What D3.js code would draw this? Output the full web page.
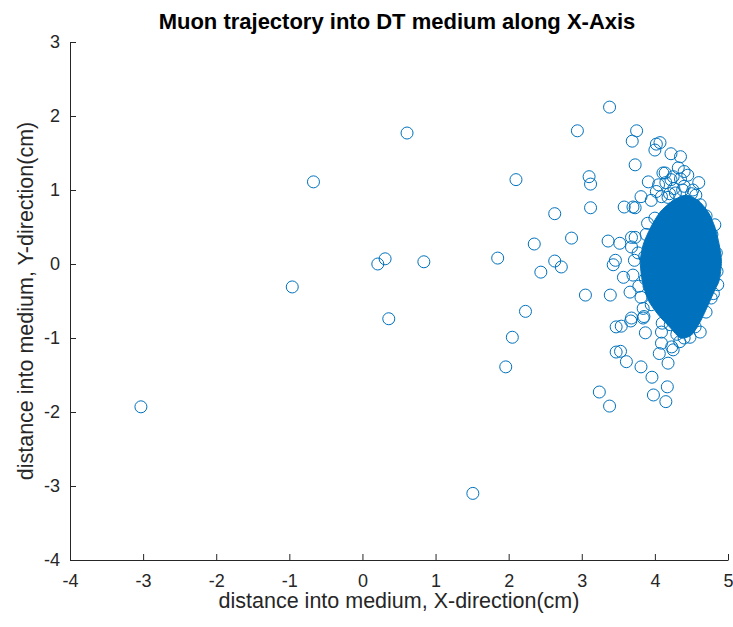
<!DOCTYPE html>
<html>
<head>
<meta charset="utf-8">
<script src="https://cdn.jsdelivr.net/npm/d3@7"></script>
<style>
  body { margin: 0; background: #fff; }
  svg { font-family: "Liberation Sans", Arial, Helvetica, sans-serif; }
  .axis path, .axis line { stroke: #262626; }
  .axis text { fill: #262626; font-size: 18px; }
</style>
</head>
<body>
<div id="chart"></div>
<script>
// scattered hits (x, y in cm)
const xs = [-3.03, -0.96, -0.67, 0.61, 0.21, 0.31, 0.84, 0.36, 1.51,
    3.38, 2.94, 2.10, 3.10, 3.12, 3.12, 2.63, 2.86, 2.35, 1.85, 2.63, 2.72, 2.44,
    3.36, 3.43, 3.46, 3.05, 3.39, 2.23, 2.05, 1.96, 3.24, 3.38, 3.47, 3.47,
    3.75, 3.69, 4.02, 4.00, 4.07, 4.22, 3.73, 3.58, 3.73, 3.52, 3.68,
    4.32, 4.45, 3.91, 4.11, 4.22, 4.05, 4.14, 4.56, 4.82, 4.28, 4.09, 3.95, 3.81, 3.70,
    3.73, 3.68, 3.77, 3.72, 3.70, 3.78, 3.57, 3.66, 3.81, 3.84, 3.85, 3.54, 3.67,
    3.87, 4.09, 4.62, 4.48, 4.21, 4.23, 4.09, 3.53, 3.61, 4.06, 4.18, 4.25, 3.81,
    3.96, 4.17, 3.98, 4.15, 3.68, 3.84, 4.86, 4.77, 4.35, 4.60, 4.40,
    // fringe of the dense core
    4.50, 4.38, 4.62, 4.70, 4.78, 4.84, 4.85, 4.80, 4.70, 4.55, 4.30, 4.40,
    3.88, 3.86, 3.87, 3.95, 4.10, 4.00, 3.90, 4.18, 4.26, 4.52, 4.34, 3.92,
    4.15, 4.25, 4.35, 4.02, 4.20, 4.40];
const ys = [-1.93, -0.31, 1.11, 1.77, 0.00, 0.07, 0.03, -0.74, -3.10,
    2.12, 1.80, 1.14, 1.18, 1.08, 0.76, 0.68, 0.35, 0.27, 0.08, 0.04, -0.04, -0.11,
    0.31, -0.01, 0.05, -0.42, -0.42, -0.64, -0.99, -1.39, -1.73, -1.92, -0.85, -1.19,
    1.80, 1.66, 1.62, 1.54, 1.64, 1.49, 1.34, 0.77, 0.76, 0.28, 0.36,
    1.30, 1.20, 1.11, 1.23, 1.14, 1.07, 1.23, 0.93, 0.53, 0.96, 0.91, 0.86, 0.91, 0.77,
    0.36, 0.23, 0.15, 0.05, -0.15, -0.30, -0.18, -0.38, -0.45, -0.60, -0.71, -0.84, -0.77,
    -0.93, -0.92, -0.92, -0.99, -0.82, -1.12, -1.07, -1.18, -1.32, -1.21, -1.34, -1.16, -1.39,
    -1.53, -1.66, -1.77, -1.86, -0.73, -0.73, -0.28, -0.46, 1.45, 1.10, 1.05,
    0.95, 1.00, 0.80, 0.65, 0.40, 0.15, -0.10, -0.40, -0.65, -0.85, -0.95, -1.00,
    0.40, 0.10, -0.20, -0.55, -0.80, 0.62, 0.55, 0.90, 1.02, 1.00, -1.05, -0.30,
    1.10, 1.18, 1.15, 0.98, 0.95, 1.25];

// outline of the solid overlapping core of the cloud
const coreX = [4.43, 4.59, 4.73, 4.82, 4.88, 4.91, 4.88, 4.82, 4.73, 4.62, 4.50, 4.35,
    4.21, 4.05, 3.91, 3.83, 3.80, 3.84, 3.94, 4.07, 4.25];
const coreY = [0.93, 0.86, 0.70, 0.50, 0.26, 0.03, -0.22, -0.35, -0.55, -0.78, -0.96, -1.00,
    -0.86, -0.69, -0.49, -0.24, 0.03, 0.26, 0.49, 0.70, 0.86];

const xTicks = [-4, -3, -2, -1, 0, 1, 2, 3, 4, 5];
const yTicks = [-4, -3, -2, -1, 0, 1, 2, 3];

const width = 733, height = 627;
const margin = {top: 42, right: 5, bottom: 67, left: 70};
const blue = '#0072BD';

const svg = d3.select('#chart').append('svg')
    .attr('width', width)
    .attr('height', height);

const x = d3.scaleLinear().domain([-4, 5]).range([margin.left, width - margin.right]);
const y = d3.scaleLinear().domain([-4, 3]).range([height - margin.bottom, margin.top]);

// plain hyphen minus, integers, like matlab
const fmt = d => String(d);

// axes, ticks pointing inward
svg.append('g')
    .attr('class', 'axis')
    .attr('transform', 'translate(0,' + y(-4) + ')')
    .call(d3.axisBottom(x).tickValues(xTicks).tickFormat(fmt).tickSizeInner(-6).tickSizeOuter(0).tickPadding(14))
    .call(g => g.selectAll('text').attr('dy', '0.71em'));

svg.append('g')
    .attr('class', 'axis')
    .attr('transform', 'translate(' + x(-4) + ',0)')
    .call(d3.axisLeft(y).tickValues(yTicks).tickFormat(fmt).tickSizeInner(-6).tickSizeOuter(0).tickPadding(10));

// core of the cloud
const core = coreX.map((d, i) => [d, coreY[i]]);
svg.append('path')
    .datum(core)
    .attr('d', d3.line().x(d => x(d[0])).y(d => y(d[1])).curve(d3.curveCardinalClosed.tension(0.3)))
    .style('fill', blue)
    .style('stroke', blue)
    .style('stroke-width', 1);

// markers
const points = xs.map((d, i) => ({x: d, y: ys[i]}));
svg.append('g')
    .selectAll('circle')
    .data(points)
    .enter()
    .append('circle')
    .attr('cx', d => x(d.x))
    .attr('cy', d => y(d.y))
    .attr('r', 6)
    .style('fill', 'none')
    .style('stroke', blue)
    .style('stroke-width', 1);

// titles
svg.append('text')
    .attr('x', 397)
    .attr('y', 29)
    .attr('text-anchor', 'middle')
    .style('font-size', '22px')
    .style('font-weight', 'bold')
    .style('fill', '#000')
    .text('Muon trajectory into DT medium along X-Axis');

svg.append('text')
    .attr('x', (x(-4) + x(5)) / 2)
    .attr('y', 608)
    .attr('text-anchor', 'middle')
    .style('font-size', '21.5px')
    .style('fill', '#262626')
    .text('distance into medium, X-direction(cm)');

svg.append('text')
    .attr('transform', 'translate(33,' + (y(-4) + y(3)) / 2 + ') rotate(-90)')
    .attr('text-anchor', 'middle')
    .style('font-size', '21.5px')
    .style('fill', '#262626')
    .text('distance into medium, Y-direction(cm)');
</script>
</body>
</html>
